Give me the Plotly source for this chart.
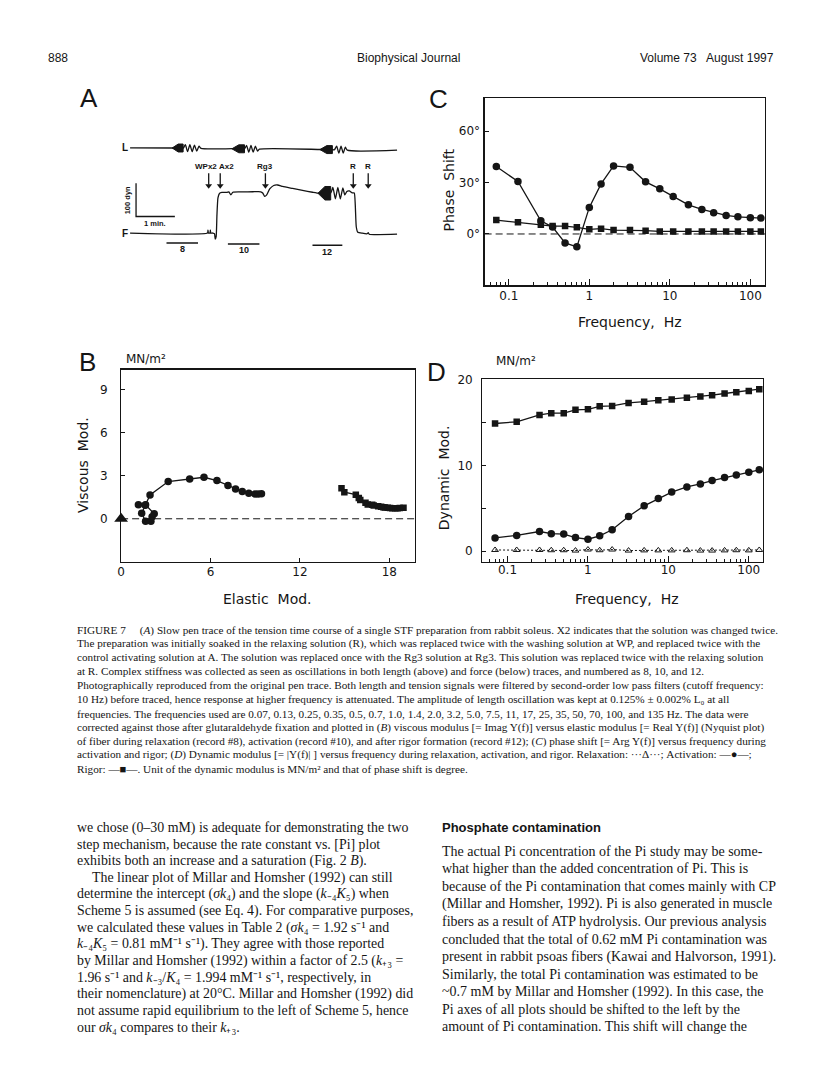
import plotly.graph_objects as go

W, H = 816, 1076
INK = "#151515"

# ---------------- data ----------------
FREQ = [0.07, 0.13, 0.25, 0.35, 0.5, 0.7, 1.0, 1.4, 2.0, 3.2, 5.0, 7.5, 11, 17, 25, 35, 50, 70, 100, 135]

# (C) phase shift, degrees
PHASE_ACT = [39.3, 30.6, 7.7, 4.0, -5.2, -7.5, 15.5, 29.2, 39.7, 38.9, 30.4, 26.3, 21.9, 17.0, 14.3, 12.4, 10.8, 10.0, 9.5, 9.3]
PHASE_RIG = [8.1, 6.8, 5.4, 4.6, 4.6, 3.9, 2.7, 3.1, 2.3, 2.3, 1.9, 1.5, 1.5, 1.5, 1.5, 1.5, 1.5, 1.5, 1.5, 1.5]

# (D) dynamic modulus, MN/m2
DYN_RIG = [14.9, 15.1, 15.9, 16.1, 16.1, 16.5, 16.55, 16.9, 16.95, 17.3, 17.45, 17.6, 17.7, 17.9, 18.05, 18.2, 18.4, 18.55, 18.7, 18.9]
DYN_ACT = [1.55, 1.85, 2.3, 2.05, 2.0, 1.6, 1.4, 1.8, 2.5, 4.05, 5.3, 6.15, 6.9, 7.5, 7.85, 8.25, 8.6, 8.9, 9.2, 9.5]
DYN_REL = [0.15, 0.15, 0.15, 0.12, 0.12, 0.08, 0.2, 0.12, 0.2, 0.08, 0.1, 0.1, 0.1, 0.12, 0.08, 0.08, 0.1, 0.12, 0.1, 0.15]

# (B) Nyquist plot
ELAS_ACT = [1.16, 1.64, 2.22, 2.08, 2.0, 1.64, 1.38, 1.62, 1.94, 3.16, 4.6, 5.56, 6.43, 7.17, 7.68, 8.13, 8.57, 8.99, 9.2, 9.42]
VISC_ACT = [0.97, 0.97, 0.35, 0.15, -0.18, -0.18, 0.39, 0.95, 1.66, 2.59, 2.77, 2.89, 2.66, 2.31, 2.08, 1.9, 1.78, 1.73, 1.73, 1.75]
ELAS_RIG = [14.79, 14.98, 15.75, 15.95, 16.05, 16.4, 16.55, 16.85, 16.95, 17.25, 17.45, 17.6, 17.7, 17.9, 18.05, 18.2, 18.4, 18.55, 18.7, 18.95]
VISC_RIG = [2.13, 1.85, 1.68, 1.45, 1.3, 1.12, 1.0, 0.97, 0.92, 0.88, 0.83, 0.8, 0.78, 0.76, 0.75, 0.74, 0.74, 0.74, 0.75, 0.76]
ELAS_REL = [0.0]
VISC_REL = [0.0]

# tick labels
LOG_TICKS = [0.1, 1, 10, 100]
LOG_TICKTEXT = ["0.1", "1", "10", "100"]
C_YTICKS = [0, 30, 60]
C_YTEXT = ["0°", "30°", "60°"]
B_XTICKS = [0, 6, 12, 18]
B_YTICKS = [0, 3, 6, 9]
D_YTICKS = [0, 5, 10, 15, 20]
D_YTEXT = ["0", " ", "10", " ", "20"]

# (A) pen trace (chart-paper units)
L_T = [126.7, 170, 180, 182.2, 184.5, 186.8, 189.1, 191.4, 193.7, 196, 198, 230, 241.7, 243.8, 246, 248.2,
       250.4, 252.6, 254.8, 256.7, 318.3, 330, 332.1, 334.3, 336.5, 338.7, 340.9, 343, 345, 395]
L_V = [142.7, 142.8, 143, 139.5, 146.5, 139.5, 146.5, 140, 146, 141, 143.2, 143.5, 143.7, 140.3, 147, 140.3,
       147, 141, 146, 144, 144.3, 144.5, 144.5, 141, 148, 141, 148, 142, 145, 145]
F_T = [126.7, 204.5, 205, 205.4, 205.8, 207, 207.4, 207.8, 210, 211.5, 212.3, 213.2, 214, 215, 216.5, 219,
       224, 226, 228, 230, 240, 250, 258, 260, 262, 264, 267, 271, 275, 280, 290, 300, 310, 316.7,
       328.3, 330.5, 333, 335.5, 338, 340.5, 342.5, 344.5, 347, 350, 352, 353, 354, 355.5, 360, 365, 366, 367, 395]
F_V = [228.3, 228.3, 225.5, 228.3, 228.3, 228.3, 225.5, 228.3, 228.3, 229, 234.5, 232, 210, 193, 188.5, 187.5,
       187.5, 187, 190, 187.3, 187, 186.8, 186.8, 188, 191.5, 190, 184, 180.5, 180, 181.5, 183.5, 185.5, 187.3, 188.3,
       188, 182.5, 194, 182.5, 194, 183, 190, 186.5, 186, 188, 188, 200, 222, 227.5, 228.5, 229, 228, 229.5, 229.5]
# oscillation bursts: start, end, centre, half-height
L_BURSTS = [(169, 180, 142.8, 4.0), (229, 241.7, 143.6, 4.0), (317.5, 330, 144.4, 4.0)]
F_BURSTS = [(315.5, 328.3, 188.3, 6.8)]
ARROW_LABELS = ["WPx2", "Ax2", "Rg3", "R", "R"]
ARROW_T = [205.7, 217.3, 262.7, 351, 366]
ARROW_LABEL_T = [203, 223.5, 262.7, 351, 366]
ARROW_TOP, ARROW_TIP = 168.3, 182.7
REC_LABELS = ["8", "10", "12"]
REC_START = [163.3, 225, 310]
REC_END = [195, 256.7, 340]
REC_Y = [238.3, 239.3, 240.7]
SCALE_T = [132.7, 132.7, 171.7]
SCALE_V = [178.3, 211.7, 211.7]

# ---------------- helpers ----------------
def px(x):
    return x / W

def py(y):
    return 1 - y / H

def dom_x(a, b):
    return [px(a), px(b)]

def dom_y(top, bottom):
    return [py(bottom), py(top)]

TICKFONT = dict(family="DejaVu Sans", size=12, color=INK)

def frame(**kw):
    d = dict(showline=True, linecolor=INK, linewidth=1.2, mirror=True, showgrid=False,
             zeroline=False, ticks="inside", tickcolor=INK, tickwidth=1, ticklen=4,
             tickfont=TICKFONT, fixedrange=True)
    d.update(kw)
    return d

MINOR_LOG = [m * 10 ** e for e in (-2, -1, 0, 1) for m in range(2, 10)]

def logaxis(domain, rng, standoff, anchor):
    return frame(type="log", domain=domain, range=rng, tickmode="array", tickvals=LOG_TICKS,
                 ticktext=LOG_TICKTEXT, ticklen=6, ticklabelstandoff=standoff, anchor=anchor,
                 minor=dict(tickmode="array", tickvals=MINOR_LOG, ticks="inside", ticklen=3,
                            tickcolor=INK, tickwidth=1))

fig = go.Figure()

def line_trace(x, y, ax, width=1.3, **kw):
    fig.add_trace(go.Scatter(x=x, y=y, mode="lines", line=dict(color=INK, width=width, **kw),
                             xaxis=ax[0], yaxis=ax[1], hoverinfo="skip", showlegend=False))

# ---------------- panel A ----------------
line_trace(L_T, L_V, ("x", "y"), shape="spline", smoothing=0.6)
line_trace(F_T, F_V, ("x", "y"), shape="spline", smoothing=0.5)
for (a, b, c, h) in L_BURSTS + F_BURSTS:
    w = b - a
    bx = [a, a + 0.3 * w, a + 0.55 * w, b, b, a + 0.55 * w, a + 0.3 * w, a]
    by = [c, c - 0.55 * h, c - h, c - h, c + h, c + h, c + 0.55 * h, c]
    fig.add_trace(go.Scatter(x=bx, y=by, mode="lines", fill="toself", fillcolor=INK,
                             line=dict(color=INK, width=1), xaxis="x", yaxis="y",
                             hoverinfo="skip", showlegend=False))
line_trace(SCALE_T, SCALE_V, ("x", "y"))
for s, e, yv in zip(REC_START, REC_END, REC_Y):
    line_trace([s, e], [yv, yv], ("x", "y"), width=1.5)
ax_x, ax_y = [], []
for t in ARROW_T:
    ax_x += [t, t, None]
    ax_y += [ARROW_TOP, ARROW_TIP - 3, None]
line_trace(ax_x, ax_y, ("x", "y"), width=1.3)
fig.add_trace(go.Scatter(x=ARROW_T, y=[ARROW_TIP - 2] * len(ARROW_T), mode="markers",
                         marker=dict(symbol="triangle-down", size=6, color=INK),
                         xaxis="x", yaxis="y", hoverinfo="skip", showlegend=False))

# ---------------- panel C ----------------
fig.add_trace(go.Scatter(x=FREQ, y=PHASE_ACT, mode="lines+markers", line=dict(color=INK, width=1.3),
                         marker=dict(symbol="circle", size=7.5, color=INK), xaxis="x2", yaxis="y2",
                         name="Activation", showlegend=False))
fig.add_trace(go.Scatter(x=FREQ, y=PHASE_RIG, mode="lines+markers", line=dict(color=INK, width=1.3),
                         marker=dict(symbol="square", size=6.5, color=INK), xaxis="x2", yaxis="y2",
                         name="Rigor", showlegend=False))

# ---------------- panel B ----------------
fig.add_trace(go.Scatter(x=ELAS_ACT, y=VISC_ACT, mode="lines+markers", line=dict(color=INK, width=1.3),
                         marker=dict(symbol="circle", size=7.5, color=INK), xaxis="x3", yaxis="y3",
                         name="Activation", showlegend=False))
fig.add_trace(go.Scatter(x=ELAS_RIG, y=VISC_RIG, mode="lines+markers", line=dict(color=INK, width=1.3),
                         marker=dict(symbol="square", size=6.5, color=INK), xaxis="x3", yaxis="y3",
                         name="Rigor", showlegend=False))
fig.add_trace(go.Scatter(x=ELAS_REL, y=VISC_REL, mode="markers", cliponaxis=False,
                         marker=dict(symbol="triangle-up", size=12, color=INK), xaxis="x3", yaxis="y3",
                         name="Relaxation", showlegend=False))

# ---------------- panel D ----------------
fig.add_trace(go.Scatter(x=FREQ, y=DYN_RIG, mode="lines+markers", line=dict(color=INK, width=1.3),
                         marker=dict(symbol="square", size=6.5, color=INK), xaxis="x4", yaxis="y4",
                         name="Rigor", showlegend=False))
fig.add_trace(go.Scatter(x=FREQ, y=DYN_ACT, mode="lines+markers", line=dict(color=INK, width=1.3),
                         marker=dict(symbol="circle", size=7.5, color=INK), xaxis="x4", yaxis="y4",
                         name="Activation", showlegend=False))
fig.add_trace(go.Scatter(x=FREQ, y=DYN_REL, mode="lines+markers", line=dict(color=INK, width=1, dash="2px,2px"),
                         marker=dict(symbol="triangle-up-open", size=6, color=INK, line=dict(width=1)),
                         xaxis="x4", yaxis="y4", name="Relaxation", showlegend=False))

# ---------------- axes ----------------
fig.update_layout(
    xaxis=dict(domain=dom_x(110, 400), range=[110, 400], visible=False, fixedrange=True),
    yaxis=dict(domain=dom_y(120, 250), range=[250, 120], visible=False, fixedrange=True),
    xaxis2=logaxis(dom_x(483, 765), [-1.3, 2.185], -1, "y2"),
    yaxis2=frame(domain=dom_y(93, 281), range=[-30, 79], tickmode="array", tickvals=C_YTICKS,
                 ticktext=C_YTEXT, ticklabelstandoff=1, anchor="x2"),
    xaxis3=frame(domain=dom_x(117.7, 412.7), range=[0, 19.7], tickmode="array", tickvals=B_XTICKS,
                 ticklabelstandoff=-1, anchor="y3"),
    yaxis3=frame(domain=dom_y(365.7, 559), range=[-3.0, 10.38], tickmode="array", tickvals=B_YTICKS,
                 ticklabelstandoff=10, anchor="x3"),
    xaxis4=logaxis(dom_x(480.7, 763), [-1.313, 2.18], -3, "y4"),
    yaxis4=frame(domain=dom_y(375, 559), range=[-1.24, 20.1], tickmode="array", tickvals=D_YTICKS,
                 ticktext=D_YTEXT, ticklabelstandoff=6, anchor="x4"),
)

fig.update_layout(shapes=[
    dict(type="line", xref="x2 domain", yref="y2", x0=0, x1=1, y0=0, y1=0,
         line=dict(color=INK, width=1, dash="7px,4px")),
    dict(type="line", xref="x3 domain", yref="y3", x0=0, x1=1, y0=0, y1=0,
         line=dict(color=INK, width=1, dash="7px,4px")),
])

# ---------------- text ----------------
ann = []

def text(x, y, s, size, family="Liberation Serif", anchor="left", color=INK, angle=0, yanchor="middle"):
    ann.append(dict(x=px(x), y=py(y), xref="paper", yref="paper", text=s, showarrow=False,
                    xanchor=anchor, yanchor=yanchor, textangle=angle,
                    font=dict(family=family, size=size, color=color)))

# header
text(42, 52, "888", 12, "Liberation Sans")
text(406, 52, "Biophysical Journal", 12, "Liberation Sans", "center")
text(776, 52, "Volume 73   August 1997", 12, "Liberation Sans", "right")

# panel letters
SANS = "Liberation Sans"
text(85, 93, "A", 26, SANS, "center")
text(436.7, 94, "C", 26, SANS, "center")
text(84, 357.5, "B", 26, SANS, "center")
text(435, 368, "D", 26, SANS, "center")

PF = "DejaVu Sans"
text(143, 355, "MN/m²", 12, PF, "center")
text(515, 357, "MN/m²", 12, PF, "center")
text(446.7, 185, "Phase  Shift", 14, PF, "center", angle=-90)
text(628.7, 318, "Frequency,  Hz", 14, PF, "center")
text(80, 462, "Viscous  Mod.", 14, PF, "center", angle=-90)
text(265, 596, "Elastic  Mod.", 14, PF, "center")
text(443, 474, "Dynamic  Mod.", 14, PF, "center", angle=-90)
text(625.7, 596, "Frequency,  Hz", 14, PF, "center")

# panel A labels (data coords)
def atext(x, y, s, size=9, angle=0):
    ann.append(dict(x=x, y=y, xref="x", yref="y", text="<b>%s</b>" % s, showarrow=False,
                    xanchor="center", yanchor="middle", textangle=angle,
                    font=dict(family="Liberation Sans", size=size, color=INK)))

atext(121.7, 142.7, "L", 10)
atext(121.7, 228.3, "F", 10)
for lab, t in zip(ARROW_LABELS, ARROW_LABEL_T):
    atext(t, 161.7, lab, 8)
for lab, s, e, yv in zip(REC_LABELS, REC_START, REC_END, REC_Y):
    atext((s + e) / 2, yv + 6.5, lab, 9)
atext(125, 195, "100 dyn", 7.5, angle=-90)
atext(151.7, 218.3, "1 min.", 7.5)

# caption
CAP = [
    "FIGURE 7     (<i>A</i>) Slow pen trace of the tension time course of a single STF preparation from rabbit soleus. X2 indicates that the solution was changed twice.",
    "The preparation was initially soaked in the relaxing solution (R), which was replaced twice with the washing solution at WP, and replaced twice with the",
    "control activating solution at A. The solution was replaced once with the Rg3 solution at Rg3. This solution was replaced twice with the relaxing solution",
    "at R. Complex stiffness was collected as seen as oscillations in both length (above) and force (below) traces, and numbered as 8, 10, and 12.",
    "Photographically reproduced from the original pen trace. Both length and tension signals were filtered by second-order low pass filters (cutoff frequency:",
    "10 Hz) before traced, hence response at higher frequency is attenuated. The amplitude of length oscillation was kept at 0.125% ± 0.002% L₀ at all",
    "frequencies. The frequencies used are 0.07, 0.13, 0.25, 0.35, 0.5, 0.7, 1.0, 1.4, 2.0, 3.2, 5.0, 7.5, 11, 17, 25, 35, 50, 70, 100, and 135 Hz. The data were",
    "corrected against those after glutaraldehyde fixation and plotted in (<i>B</i>) viscous modulus [= Imag Y(f)] versus elastic modulus [= Real Y(f)] (Nyquist plot)",
    "of fiber during relaxation (record #8), activation (record #10), and after rigor formation (record #12); (<i>C</i>) phase shift [= Arg Y(f)] versus frequency during",
    "activation and rigor; (<i>D</i>) Dynamic modulus [= |Y(f)| ] versus frequency during relaxation, activation, and rigor. Relaxation: ···Δ···; Activation: —●—;",
    "Rigor: —■—. Unit of the dynamic modulus is MN/m² and that of phase shift is degree.",
]
CAP_Y = [627.7, 641.3, 655, 669, 683.3, 697, 711.5, 725.7, 739.3, 753, 767.3]
for s, y in zip(CAP, CAP_Y):
    text(71.7, y, s, 11.2)

LEFT = [
    "we chose (0–30 mM) is adequate for demonstrating the two",
    "step mechanism, because the rate constant vs. [Pi] plot",
    "exhibits both an increase and a saturation (Fig. 2 <i>B</i>).",
    "The linear plot of Millar and Homsher (1992) can still",
    "determine the intercept (<i>σk</i>₄) and the slope (<i>k</i>₋₄<i>K</i>₅) when",
    "Scheme 5 is assumed (see Eq. 4). For comparative purposes,",
    "we calculated these values in Table 2 (<i>σk</i>₄ = 1.92 s⁻¹ and",
    "<i>k</i>₋₄<i>K</i>₅ = 0.81 mM⁻¹ s⁻¹). They agree with those reported",
    "by Millar and Homsher (1992) within a factor of 2.5 (<i>k</i>₊₃ =",
    "1.96 s⁻¹ and <i>k</i>₋₃/<i>K</i>₄ = 1.994 mM⁻¹ s⁻¹, respectively, in",
    "their nomenclature) at 20°C. Millar and Homsher (1992) did",
    "not assume rapid equilibrium to the left of Scheme 5, hence",
    "our <i>σk</i>₄ compares to their <i>k</i>₊₃.",
]
for i, s in enumerate(LEFT):
    text(86.7 if i == 3 else 71.7, 826.7 + i * 16.67, s, 13.9)

text(438.3, 826, "<b>Phosphate contamination</b>", 13, "Liberation Sans")
RIGHT = [
    "The actual Pi concentration of the Pi study may be some-",
    "what higher than the added concentration of Pi. This is",
    "because of the Pi contamination that comes mainly with CP",
    "(Millar and Homsher, 1992). Pi is also generated in muscle",
    "fibers as a result of ATP hydrolysis. Our previous analysis",
    "concluded that the total of 0.62 mM Pi contamination was",
    "present in rabbit psoas fibers (Kawai and Halvorson, 1991).",
    "Similarly, the total Pi contamination was estimated to be",
    "~0.7 mM by Millar and Homsher (1992). In this case, the",
    "Pi axes of all plots should be shifted to the left by the",
    "amount of Pi contamination. This shift will change the",
]
for i, s in enumerate(RIGHT):
    text(438.3, 850 + i * 17.67, s, 14)

fig.update_layout(
    annotations=ann,
    width=W, height=H, margin=dict(l=0, r=0, t=0, b=0),
    paper_bgcolor="white", plot_bgcolor="rgba(0,0,0,0)", showlegend=False,
    hovermode=False,
)

fig.write_html("out.html", config={"displayModeBar": False, "staticPlot": True},
               post_script="document.body.style.margin='0';document.body.style.overflow='hidden';")
